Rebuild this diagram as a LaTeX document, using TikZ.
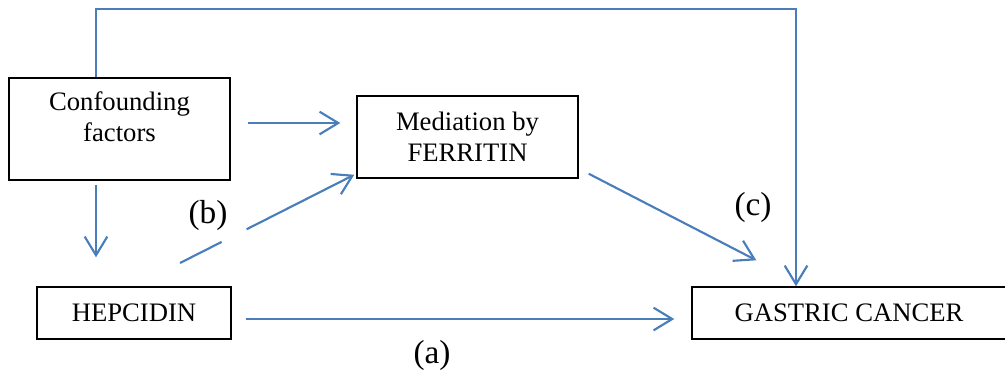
\documentclass[tikz,border=0pt]{standalone}
\usepackage{fontspec}
\setmainfont{Liberation Serif}
\usetikzlibrary{arrows.meta,calc}

\begin{document}
\begin{tikzpicture}[x=0.75pt,y=0.75pt,yscale=-1,xscale=1,
  box/.style={draw=black, line width=1.1pt, rectangle, inner sep=0pt, align=center, font=\fontsize{20}{23.5}\selectfont},
  conn/.style={draw={rgb,255:red,74;green,126;blue,187}, line width=1.6pt, -{Straight Barb[length=14pt,width=17pt]}},
  lbl/.style={font=\fontsize{25}{30}\selectfont}]
\useasboundingbox (0,0) rectangle (1005,376);

% Boxes
\node[box, minimum width=165.75pt, minimum height=76.5pt, text depth=19pt] (conf) at (119.5,129) {Confounding\\factors};
\node[box, minimum width=165.75pt, minimum height=61.5pt] (med) at (467.5,137) {Mediation by\\FERRITIN};
\node[box, minimum width=145.5pt, minimum height=39pt] (hep) at (134,313) {HEPCIDIN};
\node[box, minimum width=235.5pt, minimum height=39pt] (gas) at (849,313) {GASTRIC CANCER};

% Corners of the top line
\coordinate (tl) at (96,9);
\coordinate (tr) at (796,9);
\coordinate (bs) at (180,263);

%Straight Lines
\draw[conn] (tl |- conf.north) -- (tl) -- (tr) -- (tr |- gas.north);
\draw[conn] ($(tl |- conf.south)+(0,4)$) -- ($(tl |- hep.north)+(0,-29)$);
\draw[conn] ($(conf.east |- 0,123)+(17,0)$) -- ($(med.west |- 0,123)+(-16,0)$);
\draw[conn, dash pattern=on 35pt off 21pt on 300pt off 0pt] (bs) -- ($(med.south west)+(-2,-4)$);
\draw[conn] ($(med.south east)+(10,-5)$) -- ($(gas.north west)+(65,-26)$);
\draw[conn] ($(hep.east |- 0,319)+(14,0)$) -- ($(gas.west |- 0,319)+(-17,0)$);

% Text Node
\node[lbl] (la) at (432,355) {(a)};
% Text Node
\node[lbl] (lb) at (208,215) {(b)};
% Text Node
\node[lbl] (lc) at (753,207) {(c)};

\end{tikzpicture}
\end{document}
